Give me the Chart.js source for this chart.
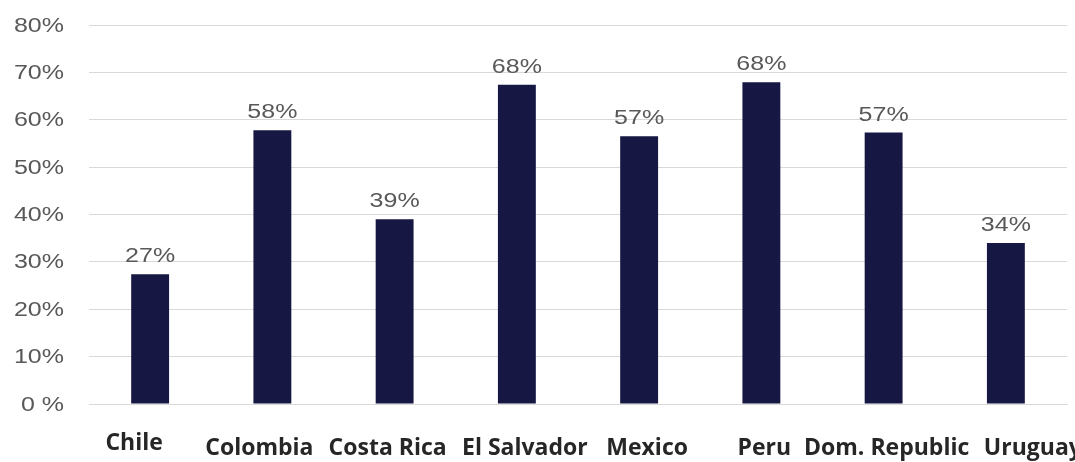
<!DOCTYPE html>
<html>
<head>
<meta charset="utf-8">
<script src="https://cdn.jsdelivr.net/npm/chart.js@4"></script>
<style>
  html, body { margin: 0; padding: 0; background: #fff; }
  #wrap { width: 1075px; height: 462px; }
</style>
</head>
<body>
<div id="wrap"><canvas id="chart"></canvas></div>
<script>
const countries = ['Chile', 'Colombia', 'Costa Rica', 'El Salvador', 'Mexico', 'Peru', 'Dom. Republic', 'Uruguay'];
const shares = [27.4, 57.8, 39.0, 67.4, 56.5, 67.9, 57.3, 34.0];
const shareLabels = ['27%', '58%', '39%', '68%', '57%', '68%', '57%', '34%'];
const yTicks = [0, 10, 20, 30, 40, 50, 60, 70, 80];
const yTickLabels = ['0 %', '10%', '20%', '30%', '40%', '50%', '60%', '70%', '80%'];

// the country names in the original are not centred under the bars
const nameNudge = [-16, -13, -7, 8, 8, 3, 3, 27];

// text in the original is stretched sideways
function wideText(ctx, txt, x, y, align) {
  const sx = 1.25;
  ctx.save();
  ctx.textAlign = align;
  ctx.scale(sx, 1);
  ctx.fillText(txt, x / sx, y);
  ctx.restore();
}

const labelsPlugin = {
  id: 'labels',
  afterDatasetsDraw(chart) {
    const ctx = chart.ctx;
    const meta = chart.getDatasetMeta(0);
    const ys = chart.scales.y;
    ctx.save();
    ctx.textBaseline = 'alphabetic';
    ctx.font = '20px "Liberation Sans", Arial, sans-serif';
    ctx.fillStyle = '#595959';
    meta.data.forEach((bar, i) => {
      wideText(ctx, shareLabels[i], bar.x, bar.y - 12, 'center');
    });
    ctx.textBaseline = 'middle';
    yTicks.forEach((v, i) => {
      wideText(ctx, yTickLabels[i], 64, ys.getPixelForValue(v) + 1, 'right');
    });
    ctx.textBaseline = 'alphabetic';
    ctx.textAlign = 'center';
    ctx.font = 'bold 23px "Open Sans", sans-serif';
    ctx.fillStyle = '#262626';
    const xs = chart.scales.x;
    countries.forEach((c, i) => {
      const x = xs.getPixelForValue(i) + nameNudge[i];
      const y = chart.chartArea.bottom + (i === 0 ? 46 : 51);
      ctx.fillText(c, x, y);
    });
    ctx.restore();
  }
};

new Chart(document.getElementById('chart'), {
  type: 'bar',
  data: {
    labels: countries,
    datasets: [{
      data: shares,
      backgroundColor: '#161742',
      categoryPercentage: 1,
      barPercentage: 0.31
    }]
  },
  options: {
    responsive: true,
    maintainAspectRatio: false,
    animation: false,
    layout: { padding: { top: 25, right: 8, left: 0, bottom: 0 } },
    plugins: { legend: { display: false }, tooltip: { enabled: false } },
    scales: {
      x: {
        grid: { display: false },
        border: { display: true, color: '#d9d9d9' },
        ticks: { display: false },
        afterFit(s) { s.height = 58; }
      },
      y: {
        min: 0, max: 80,
        afterBuildTicks(s) { s.ticks = yTicks.map(v => ({ value: v })); },
        grid: { color: '#d9d9d9', drawTicks: false },
        border: { display: false },
        ticks: { display: false },
        afterFit(s) { s.width = 89; }
      }
    }
  },
  plugins: [labelsPlugin]
});
</script>
</body>
</html>
